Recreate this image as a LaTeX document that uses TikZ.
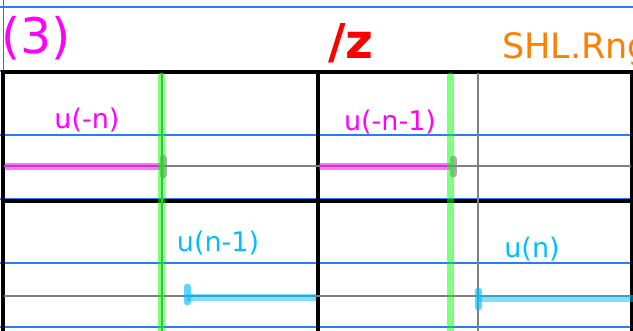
\documentclass[tikz,border=0pt]{standalone}
\usepackage{fontspec}
\setmainfont{DejaVu Sans}
\usetikzlibrary{positioning}
\definecolor{paperblue}{RGB}{40,125,240}
\definecolor{sigpink}{RGB}{255,0,255}
\definecolor{sigcyan}{RGB}{0,190,255}
\definecolor{markgreen}{RGB}{0,255,0}
\definecolor{hdrred}{RGB}{255,0,0}
\definecolor{hdrorange}{RGB}{255,128,0}
\tikzset{
  paperline/.style={draw=paperblue, line width=1.6pt},
  panelbox/.style={draw=black, line width=3.4pt},
  zeroaxis/.style={draw=gray, line width=2pt},
  negsig/.style={draw=sigpink, line width=7pt, opacity=.55},
  possig/.style={draw=sigcyan, line width=7pt, opacity=.5},
  endcap/.style={line width=7pt, line cap=round, opacity=.65},
  delayline/.style={draw=markgreen, line width=7pt, line cap=round, opacity=.5},
  lbl/.style={inner sep=0pt, anchor=base, font=\fontsize{27}{30}\selectfont}
}

\begin{document}
\begin{tikzpicture}[x=1pt,y=-1pt]
\useasboundingbox (0,0) rectangle (633,330);
\clip (0,0) rectangle (633,330);

% ------------------------------------------------------------------
% ruled paper
% ------------------------------------------------------------------
\foreach \y in {7,71,135,199,263,327}
  \draw[paperline] (0,\y) -- (633,\y);
\draw[draw=sigpink, line width=1.6pt] (3.5,0) -- (3.5,72);

% ------------------------------------------------------------------
% header
% ------------------------------------------------------------------
\node[inner sep=0pt, anchor=base west, text=sigpink,
  font=\fontsize{49}{55}\selectfont] (num) at (1,53) {(3)};
\node[inner sep=0pt, anchor=base west, text=hdrred,
  font=\fontsize{48}{54}\selectfont\bfseries] (zinv) at (328,58) {/z};
\node[inner sep=0pt, anchor=base west, text=hdrorange,
  font=\fontsize{35}{40}\selectfont] (shl) at (502,58) {SHL.Rng};

% ------------------------------------------------------------------
% panels and axes
% ------------------------------------------------------------------
\draw[panelbox] (3,72) rectangle (318,201);
\draw[panelbox] (318,72) rectangle (632,201);
\draw[panelbox] (3,201) rectangle (318,334);
\draw[panelbox] (318,201) rectangle (632,334);

\draw[zeroaxis] (4,166) -- (631,166);
\draw[zeroaxis] (4,296) -- (631,296);
\draw[zeroaxis] (162,73) -- (162,334);
\draw[zeroaxis] (478,73) -- (478,334);

% ------------------------------------------------------------------
% steps
% ------------------------------------------------------------------
\draw[negsig] (5,166) -- (160,166);
\draw[endcap, draw=gray] (163,158) -- (163,175);
\draw[negsig] (319,166) -- (450,166);
\draw[endcap, draw=gray] (453,159) -- (453,174);

\draw[possig] (187,297) -- (316,297);
\draw[endcap, draw=sigcyan] (187,287) -- (187,302);
\draw[possig] (478,298) -- (640,298);
\draw[endcap, draw=sigcyan] (478,291) -- (478,307);

\node[lbl, text=sigpink] (un) at (87,128) {u(-n)};
\node[lbl, text=sigpink] (unm) at (390,130) {u(-n-1)};
\node[lbl, text=sigcyan] (upm) at (218,251) {u(n-1)};
\node[lbl, text=sigcyan] (up) at (532,257) {u(n)};

% ------------------------------------------------------------------
% delay markers
% ------------------------------------------------------------------
\draw[delayline] (161,76) -- (161,336);
\draw[delayline] (450,76) -- (450,336);

\end{tikzpicture}
\end{document}
